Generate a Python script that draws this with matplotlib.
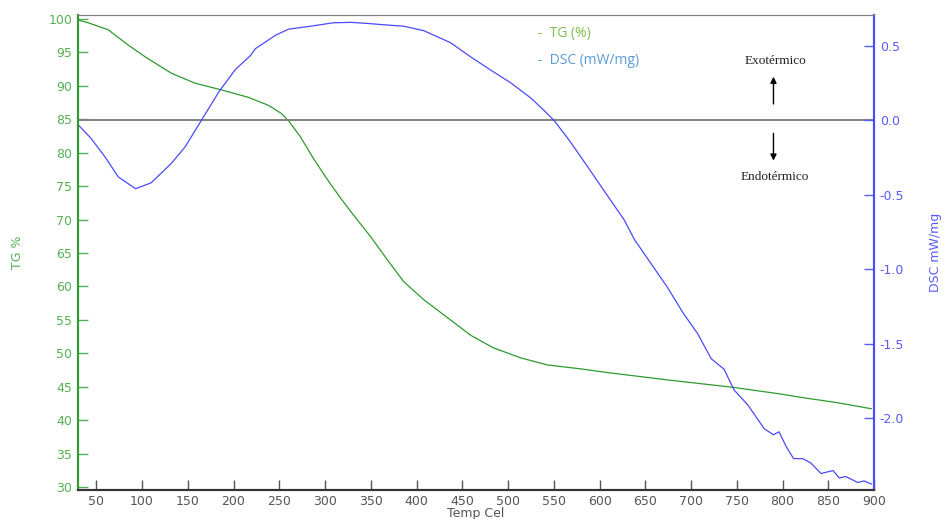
import matplotlib.pyplot as plt

# TG curve (temperature in Cel, mass %)
tg_temp = [30, 40, 63, 85, 104, 132, 158, 187, 216, 238, 252, 260, 273, 287,
           303, 317, 331, 350, 368, 386, 408, 434, 459, 484, 514, 543, 580,
           609, 675, 746, 798, 820, 860, 897]
tg_val = [99.85, 99.5, 98.4, 96.1, 94.3, 91.9, 90.4, 89.4, 88.3, 87.1, 85.9,
          84.8, 82.4, 79.2, 75.9, 73.2, 70.7, 67.4, 64.0, 60.7, 58.0, 55.3,
          52.7, 50.8, 49.3, 48.25, 47.65, 47.1, 46.0, 44.9, 43.9, 43.4, 42.6,
          41.7]

# DSC curve (temperature in Cel, mW/mg)
dsc_temp = [30, 44, 60, 74, 93, 110, 132, 147, 164, 184, 202, 218, 224, 246,
            260, 284, 309, 328, 346, 364, 386, 408, 437, 459, 481, 503, 525,
            539, 550, 565, 572, 590, 609, 627, 638, 656, 674, 692, 707, 722,
            736, 747, 762, 780, 790, 796, 804, 812, 822, 831, 842, 855, 862,
            869, 882, 889, 897]
dsc_val = [-0.03, -0.12, -0.25, -0.38, -0.46, -0.42, -0.29, -0.18, -0.01,
           0.19, 0.34, 0.43, 0.48, 0.57, 0.61, 0.63, 0.653, 0.656, 0.649,
           0.64, 0.63, 0.60, 0.52, 0.425, 0.336, 0.25, 0.148, 0.067, 0.0,
           -0.12, -0.18, -0.34, -0.51, -0.67, -0.80, -0.96, -1.12, -1.30,
           -1.43, -1.60, -1.67, -1.81, -1.91, -2.07, -2.11, -2.09, -2.19,
           -2.27, -2.27, -2.30, -2.37, -2.35, -2.40, -2.39, -2.43, -2.42,
           -2.44]

x_ticks = list(range(50, 901, 50))
tg_ticks = list(range(30, 101, 5))
dsc_ticks = [0.5, 0.0, -0.5, -1.0, -1.5, -2.0]

green = "#2f9a2f"
green_lbl = "#55b055"
blue = "#4a4aff"
blue_lbl = "#5a5aff"

fig = plt.figure(figsize=(9.45, 5.19), dpi=100)
ax = fig.add_axes([0.0825, 0.056, 0.8425, 0.915])
ax2 = ax.twinx()

ax.plot(tg_temp, tg_val, color=green, lw=0.9)
ax2.plot(dsc_temp, dsc_val, color=blue, lw=0.9)
ax2.axhline(0, color="#808080", lw=1.4, zorder=0)

ax.set_xlim(30, 900)
ax.set_ylim(29.55, 100.6)
ax2.set_ylim(-2.48, 0.705)

ax.set_xticks(x_ticks)
ax.set_yticks(tg_ticks)
ax2.set_yticks(dsc_ticks)
ax2.set_yticklabels([f"{v:.1f}" for v in dsc_ticks])

ax.tick_params(axis="x", direction="in", length=7, width=1, colors="#555555",
               labelsize=9, pad=4)
ax.tick_params(axis="y", direction="in", length=7, width=1, color=green_lbl,
               labelcolor=green_lbl, labelsize=9, pad=4)
ax2.tick_params(axis="y", direction="in", length=7, width=1, color=blue_lbl,
                labelcolor=blue_lbl, labelsize=9, pad=4)

for a in (ax, ax2):
    a.spines["top"].set_color("#808080")
    a.spines["bottom"].set_color("#333333")
    a.spines["left"].set_color(green)
    a.spines["right"].set_color(blue)
    a.spines["left"].set_linewidth(1.5)
    a.spines["right"].set_linewidth(1.5)
    a.spines["bottom"].set_linewidth(1.5)

ax.set_xlabel("Temp Cel", color="#555555", fontsize=9)
ax.xaxis.set_label_coords(0.5, -0.036)
ax.set_ylabel("TG %", color=green_lbl, fontsize=9)
ax.yaxis.set_label_coords(-0.068, 0.5)
ax2.set_ylabel("DSC mW/mg", color=blue_lbl, fontsize=9, rotation=90)
ax2.yaxis.set_label_coords(1.069, 0.5)

# legend entries as plain text
ax.text(0.578, 0.962, "-  TG (%)", transform=ax.transAxes, color="#7fbf4f",
        fontsize=10, family="Open Sans", va="center")
ax.text(0.578, 0.905, "-  DSC (mW/mg)", transform=ax.transAxes,
        color="#5b9bd5", fontsize=10, family="Open Sans", va="center")

# exo / endo direction markers
ax2.annotate("", xy=(790, 0.31), xytext=(790, 0.09),
             arrowprops=dict(arrowstyle="-|>", color="black", lw=1,
                             mutation_scale=9))
ax2.annotate("", xy=(790, -0.29), xytext=(790, -0.07),
             arrowprops=dict(arrowstyle="-|>", color="black", lw=1,
                             mutation_scale=9))
ax2.text(792, 0.40, "Exotérmico", ha="center", va="center", fontsize=9.5,
         family="Liberation Serif", color="#222222")
ax2.text(792, -0.38, "Endotérmico", ha="center", va="center", fontsize=9.5,
         family="Liberation Serif", color="#222222")

fig.savefig("out.png", dpi=100)
